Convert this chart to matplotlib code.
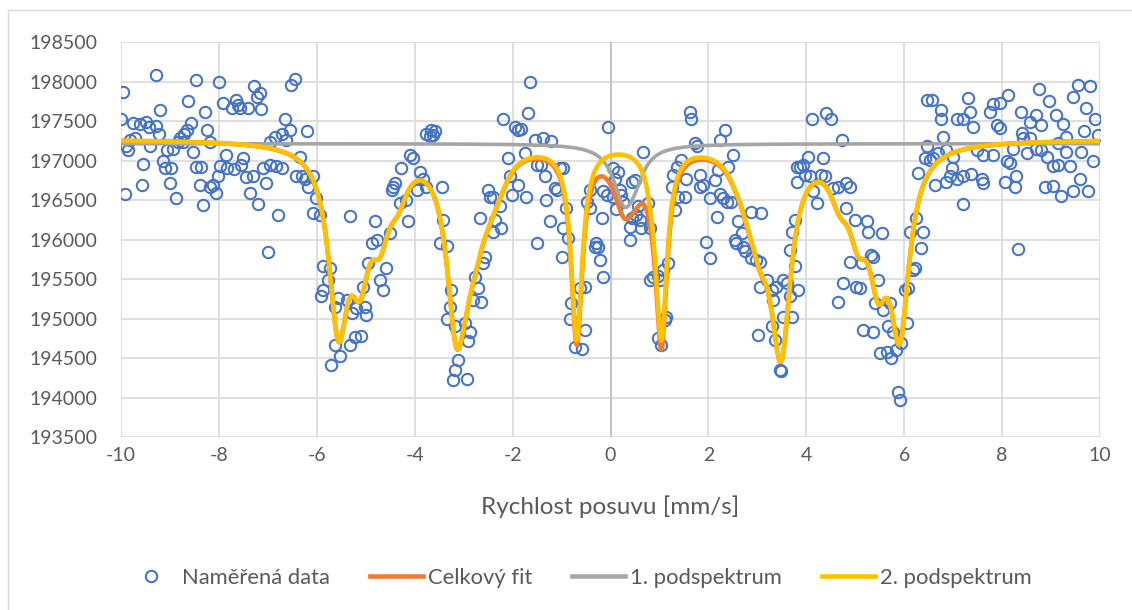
import numpy as np
import matplotlib
matplotlib.use("Agg")
import matplotlib.pyplot as plt
from matplotlib.lines import Line2D
from matplotlib.patches import Rectangle

plt.rcParams["font.family"] = ["Lato", "DejaVu Sans"]
plt.rcParams["axes.unicode_minus"] = False

# measured spectrum: source velocity [mm/s] and counts
vel = np.array([
    -9.96, -9.29, -8.46, -7.99, -7.29, -7.16, -7.23, -8.63, -9.21, -7.91,
    -7.66, -7.74, -7.61, -7.57, -7.40, -7.13, -8.29, -6.65, -9.99, -9.75,
    -9.62, -9.49, -9.43, -9.28, -9.22, -8.57, -8.65, -8.72, -8.25, -8.80,
    -8.83, -8.73, -8.19, -9.82, -9.72, -9.89, -9.85, -9.41, -9.07, -8.94,
    -8.53, -7.85, -7.50, -6.96, -6.86, -6.72, -6.62, -9.55, -9.14, -9.11,
    -8.97, -8.46, -8.36, -7.98, -7.83, -7.70, -7.54, -7.10, -6.96, -6.84,
    -6.72, -7.44, -7.30, -8.02, -8.12, -8.19, -8.06, -8.39, -9.58, -9.00,
    -9.92, -8.87, -8.32, -7.37, -7.04, -7.20, -6.79, -6.99,
    -6.53, -6.45, -6.55, -6.20, -6.35, -6.42, -6.31, -6.25, -6.18, -6.08,
    -6.01, -6.08, -5.94, -5.33, -5.87, -5.73, -5.77, -5.91, -5.87, -5.63,
    -5.56, -5.39, -5.29, -5.19, -5.02, -4.99, -5.05, -4.95, -4.88, -4.78,
    -4.71, -4.65, -4.58, -4.81, -4.51, -4.44, -4.47, -4.41, -4.27, -4.30,
    -4.13, -4.17, -4.10, -4.03, -3.90, -3.83, -3.96, -3.76, -3.45, -3.42,
    -3.49, -3.35, -3.25, -3.28, -3.35, -3.18, -3.11, -3.18, -3.21, -5.70,
    -5.53, -5.63, -5.33, -5.22, -5.09, -3.76, -3.66, -3.59, -3.62, -3.69,
    -2.94, -2.98, -2.87, -2.91, -2.81, -2.64, -2.70, -2.77, -2.60, -2.57,
    -2.67, -2.36, -2.23, -2.40, -2.47, -2.50, -2.40, -2.26, -2.06, -2.09,
    -2.19, -1.95, -1.89, -1.82, -1.68, -1.65, -1.55, -1.38, -1.21, -1.75,
    -1.89, -2.02, -1.72, -1.51, -1.41, -1.34, -1.31, -1.24, -1.10, -1.14,
    -1.04, -0.97, -0.90, -0.97, -0.87, -1.00, -1.51, -0.80, -0.83, -0.63,
    -0.52, -0.52, -0.73, -0.59, -0.42, -0.49, -0.42, -0.18, -0.29, -0.25,
    -0.32, -0.22, -0.15, -0.05,
    0.67, 0.05, 0.16, 0.09, 0.43, 0.50, -0.15, -0.08, 0.19, 0.22,
    0.26, 0.05, 0.12, 0.56, 0.53, 0.43, 0.60, 0.40, 0.63, 0.80,
    0.40, 0.77,
    1.62, 1.65, 2.34, 2.23, 1.72, 1.76, 2.51, 2.40, 2.20, 1.45,
    1.35, 1.28, 1.25, 1.31, 1.38, 1.52, 1.55, 1.82, 1.82, 1.89,
    2.03, 2.13, 2.23, 2.30, 2.37, 2.47, 2.17, 1.96, 2.03, 2.61,
    2.68, 2.54, 2.57, 2.71, 2.88, 3.08, 2.74, 2.88, 2.98, 3.05,
    3.05, 3.19, 3.29, 3.32, 3.39, 3.53, 3.60, 3.66, 3.53, 3.02,
    3.29, 3.36, 3.46, 3.49, 0.80, 0.87, 0.97, 1.01, 1.07, 1.18,
    1.11, 0.97, 1.04, 1.14, 3.80, 3.80, 3.77, 3.70, 3.66, 3.77,
    3.83, 3.70,
    4.11, 4.41, 4.51, 4.72, 3.87, 3.94, 4.04, 4.34, 3.97, 4.07,
    4.31, 4.38, 4.14, 4.21, 4.55, 4.65, 4.82, 4.89, 4.82, 4.99,
    5.23, 5.26, 5.54, 4.89, 5.13, 5.33, 5.37, 5.02, 5.09, 4.75,
    4.65, 5.47, 5.40, 5.57, 5.71, 5.16, 5.37, 5.67, 5.77, 6.05,
    6.01, 6.08, 5.94, 5.84, 5.74, 5.50, 5.64, 5.88, 5.91, 6.11,
    6.25, 6.39, 6.35, 6.18, 6.22, 6.28, 6.46, 6.42, 6.59, 6.52,
    6.46, 6.56, 6.76, 6.76, 7.07, 6.80, 6.69, 6.86, 7.00, 6.63,
    6.86, 6.93, 7.07, 6.97,
    9.55, 9.79, 8.76, 8.12, 7.31, 9.45, 8.96, 9.72, 7.82, 7.95,
    8.38, 7.75, 7.34, 8.70, 9.10, 9.89, 7.20, 8.57, 8.80, 9.25,
    7.41, 7.89, 7.95, 8.40, 9.67, 9.30, 9.96, 8.57, 8.43, 9.15,
    8.23, 7.48, 8.70, 7.61, 7.82, 8.50, 8.80, 9.31, 9.62, 8.09,
    8.16, 8.91, 9.04, 9.15, 9.38, 9.85, 7.20, 7.37, 7.58, 7.61,
    8.06, 8.29, 8.26, 8.87, 9.04, 9.21, 9.44, 9.59, 9.76, 8.33,
    7.20,
])
counts = np.array([
    197870, 198080, 198020, 198000, 197940, 197850, 197810, 197750, 197640, 197730,
    197770, 197660, 197700, 197660, 197670, 197650, 197610, 197530, 197520, 197470,
    197460, 197490, 197430, 197440, 197340, 197470, 197390, 197340, 197390, 197280,
    197240, 197230, 197240, 197260, 197280, 197180, 197130, 197180, 197130, 197140,
    197110, 197070, 197030, 197240, 197300, 197340, 197260, 196960, 196990, 196900,
    196900, 196920, 196920, 196930, 196910, 196890, 196940, 196910, 196940, 196930,
    196900, 196790, 196800, 196800, 196690, 196670, 196590, 196690, 196690, 196720,
    196570, 196520, 196440, 196590, 196710, 196450, 196310, 195840,
    197960, 198030, 197390, 197370, 197050, 196800, 196800, 196770, 196670, 196800,
    196520, 196330, 196310, 196300, 195660, 195640, 195490, 195280, 195360, 195150,
    195260, 195230, 195070, 195130, 195150, 195040, 195400, 195700, 195950, 195990,
    195490, 195360, 195640, 196230, 196080, 196670, 196630, 196710, 196900, 196460,
    196230, 196500, 197070, 197030, 196860, 196770, 196630, 196670, 196670, 196250,
    195950, 195920, 195360, 195150, 195000, 194900, 194480, 194350, 194220, 194410,
    194520, 194660, 194660, 194770, 194780, 197340, 197390, 197370, 197320, 197310,
    194240, 194940, 194830, 194710, 195230, 195210, 195380, 195530, 195700, 195780,
    196270, 196250, 196140, 196100, 196540, 196630, 196540, 196420, 196800, 197030,
    197530, 197430, 197390, 197400, 197600, 198000, 197260, 197290, 197250, 197090,
    196690, 196560, 196540, 196940, 196940, 196800, 196500, 196230, 196630, 196650,
    196900, 196900, 196400, 196140, 196020, 195780, 195960, 195190, 195000, 195380,
    195400, 194850, 194640, 194620, 196630, 196480, 196400, 196270, 195950, 195910,
    195910, 195740, 195530, 197420,
    197110, 196900, 196860, 196770, 196730, 196750, 196610, 196560, 196630, 196560,
    196480, 196540, 196390, 196420, 196310, 196270, 196250, 196160, 196140, 196140,
    195990, 196460,
    197620, 197530, 197380, 197260, 197220, 197180, 197070, 196920, 196880, 197010,
    196920, 196820, 196670, 196370, 196540, 196540, 196770, 196820, 196670, 196690,
    196520, 196750, 196580, 196520, 196480, 196480, 196290, 195970, 195760, 196230,
    196080, 195990, 195950, 195910, 196350, 196330, 195850, 195760, 195740, 195720,
    195400, 195490, 195360, 195230, 195400, 195490, 195450, 195280, 195020, 194790,
    194900, 194730, 194350, 194330, 195490, 195530, 195540, 195490, 195610, 195700,
    194980, 194750, 194660, 195020, 196920, 196730, 196250, 196100, 195870, 195660,
    195360, 195020,
    197530, 197600, 197530, 197260, 196920, 196940, 197050, 197030, 196820, 196800,
    196820, 196800, 196610, 196460, 196650, 196670, 196710, 196670, 196400, 196250,
    196230, 196100, 196080, 195720, 195700, 195800, 195780, 195400, 195380, 195450,
    195210, 195490, 195190, 195110, 195190, 194850, 194830, 194900, 194830, 194940,
    195360, 195380, 194690, 194600, 194500, 194560, 194580, 194070, 193970, 196100,
    196270, 196100, 195890, 195610, 195640, 196840, 197180, 197030, 197030, 197010,
    197770, 197770, 197640, 197530, 197520, 197300, 197090, 197130, 197050, 196690,
    196730, 196800, 196770, 196900,
    197960, 197940, 197910, 197830, 197790, 197800, 197750, 197670, 197720, 197730,
    197610, 197610, 197610, 197580, 197580, 197520, 197520, 197490, 197450, 197460,
    197430, 197450, 197410, 197350, 197370, 197300, 197320, 197290, 197280, 197220,
    197150, 197130, 197140, 197070, 197070, 197090, 197130, 197110, 197110, 196990,
    196970, 197040, 196930, 196940, 196930, 196990, 196800, 196830, 196770, 196720,
    196730, 196800, 196670, 196670, 196680, 196550, 196620, 196760, 196610, 195880,
    196450,
])

# subspectrum 2 (magnetic, field distribution): Lorentzian lines
sub2_base = 197269
sub2_pos = [-5.56, -5.12, -4.71, -4.34, -3.15, -2.94, -2.74, -2.47, -2.24,
            -0.69, 0.86, 1.04,
            2.57, 2.81, 3.05, 3.29, 3.49, 4.68, 5.06, 5.47, 5.91]
sub2_depth = [2155, 1258, 818, 402, 2036, 547, 556, 345, 178,
              2451, 156, 2395,
              123, 330, 741, 247, 2350, 430, 792, 1287, 2178]
sub2_hwhm = [0.24, 0.24, 0.24, 0.24, 0.24, 0.24, 0.24, 0.24, 0.24,
             0.14, 0.14, 0.14,
             0.24, 0.24, 0.24, 0.24, 0.24, 0.24, 0.24, 0.24, 0.24]

# subspectrum 1 (paramagnetic doublet)
sub1_base = 197213
sub1_pos = [0.28, 0.50]
sub1_depth = [676, 228]
sub1_hwhm = [0.27, 0.24]


def lorentz(x, p, g):
    return 1.0 / (1.0 + ((x - p) / g) ** 2)


def spectrum(x, base, pos, depth, hwhm):
    y = np.full_like(x, float(base))
    for p, a, g in zip(pos, depth, hwhm):
        y -= a * lorentz(x, p, g)
    return y


v = np.linspace(-10, 10, 2001)
sub2 = spectrum(v, sub2_base, sub2_pos, sub2_depth, sub2_hwhm)
sub1 = spectrum(v, sub1_base, sub1_pos, sub1_depth, sub1_hwhm)
total = sub2 + sub1 - sub1_base

W, H = 1132, 610
fig = plt.figure(figsize=(W / 100, H / 100), dpi=100)
ax = fig.add_axes([121 / W, 1 - 437 / H, (1100 - 121) / W, (437 - 42) / H])
ax.set_xlim(-10, 10)
ax.set_ylim(193500, 198500)
ax.set_xticks(np.arange(-10, 11, 2))
ax.set_yticks(np.arange(193500, 198501, 500))
ax.grid(True, color="#D9D9D9", lw=1.2)
ax.set_axisbelow(True)
for s in ax.spines.values():
    s.set_visible(False)
ax.axvline(0, color="#BFBFBF", lw=1.2, zorder=1)
ax.tick_params(length=0, labelsize=14, labelcolor="#595959")
ax.tick_params(axis="y", pad=17)
ax.tick_params(axis="x", pad=7)

ax.plot(vel, counts, "o", ms=8.2, mfc="none", mec="#4472C4", mew=1.45, zorder=2)
ax.plot(v, total, color="#ED7D31", lw=3.3, zorder=3)
ax.plot(v, sub1, color="#A5A5A5", lw=2.6, zorder=4)
ax.plot(v, sub2, color="#FFC000", lw=3.3, zorder=5)

fig.text(610 / W, 1 - 507 / H, "Rychlost posuvu [mm/s]", ha="center", va="center",
         fontsize=17.5, color="#595959")

handles = [
    Line2D([], [], ls="none", marker="o", ms=8.2, mfc="none", mec="#4472C4", mew=1.45),
    Line2D([], [], color="#ED7D31", lw=3.3),
    Line2D([], [], color="#A5A5A5", lw=3.3),
    Line2D([], [], color="#FFC000", lw=3.3),
]
labels = ["Naměřená data", "Celkový fit", "1. podspektrum", "2. podspektrum"]
leg_fs = 15.8
F = leg_fs / 0.72
leg = fig.legend(handles, labels, loc="center", bbox_to_anchor=(578 / W, 1 - 578 / H),
                 ncol=4, frameon=False, fontsize=leg_fs, handlelength=53 / F,
                 handletextpad=5 / F, columnspacing=40 / F, borderpad=0)
for t in leg.get_texts():
    t.set_color("#595959")

# chart area outline
fig.patches.append(Rectangle((8 / W, -0.05), 1.2, 1 - 10 / H + 0.05,
                             transform=fig.transFigure, fill=False,
                             ec="#D9D9D9", lw=1.0))
fig.savefig("out.png", dpi=100)
